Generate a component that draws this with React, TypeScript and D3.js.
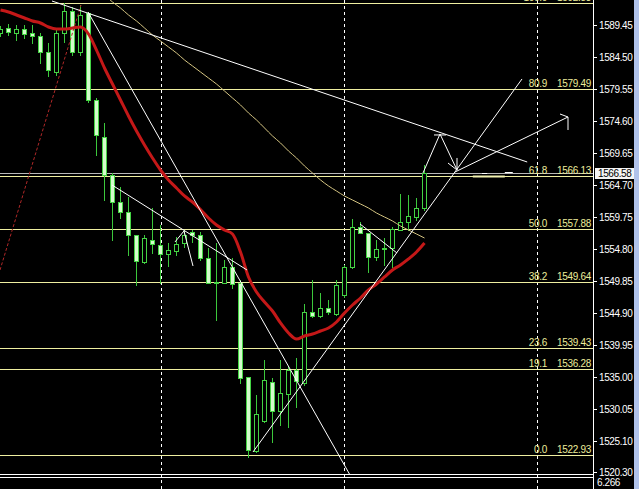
import React from 'react';
import * as d3 from 'd3';

const W = 639;
const H = 489;

// OHLC per bar (bar index 0..53)
const opens = [1588.21,1588.99,1588.21,1588.83,1588.21,1587.75,1585.27,1582.18,1588.21,1591.62,1585.27,1591.31,1577.85,1572.13,1566.25,1562.07,1560.53,1556.97,1552.79,1556.19,1555.42,1554.03,1554.49,1555.73,1557.43,1556.97,1553.41,1549.70,1549.54,1552.02,1549.54,1535.00,1523.56,1528.20,1534.23,1529.74,1532.37,1536.09,1534.08,1545.06,1544.44,1545.68,1544.75,1547.69,1552.02,1558.20,1557.28,1553.56,1554.96,1554.96,1557.74,1558.98,1559.75,1561.14];
const highs = [1589.30,1589.60,1589.45,1589.45,1589.45,1588.21,1586.67,1588.99,1592.83,1592.23,1592.54,1591.46,1578.16,1574.29,1566.56,1564.39,1562.85,1556.97,1556.97,1561.14,1558.51,1555.73,1556.66,1557.74,1557.74,1557.43,1554.96,1555.73,1553.10,1553.41,1550.01,1535.00,1532.22,1537.63,1534.85,1537.63,1536.70,1537.94,1546.30,1550.01,1548.00,1546.91,1550.01,1552.33,1559.44,1558.98,1557.28,1556.19,1556.50,1558.20,1563.31,1563.15,1562.69,1567.80];
const lows = [1587.75,1587.90,1587.13,1587.44,1586.67,1583.57,1581.56,1581.72,1586.82,1584.81,1584.81,1577.54,1569.34,1562.38,1556.19,1559.60,1553.87,1549.23,1552.64,1554.18,1549.54,1552.17,1553.87,1555.11,1555.89,1553.10,1549.54,1543.82,1549.54,1548.77,1534.08,1522.60,1523.40,1528.04,1524.95,1527.58,1527.27,1530.36,1533.77,1544.28,1544.28,1544.75,1544.59,1547.38,1551.86,1557.28,1551.24,1553.10,1552.33,1552.02,1557.74,1557.74,1559.29,1560.83];
const closes = [1588.83,1588.37,1588.83,1588.06,1587.75,1585.27,1582.49,1588.21,1591.62,1585.27,1591.00,1577.85,1572.44,1566.25,1562.07,1560.53,1556.97,1552.95,1556.50,1555.58,1554.03,1554.65,1555.58,1556.97,1556.97,1553.41,1549.54,1549.54,1552.02,1549.39,1534.85,1523.71,1529.28,1534.54,1529.74,1532.53,1536.09,1534.38,1545.06,1544.44,1545.68,1545.06,1549.23,1552.02,1558.20,1557.28,1553.56,1554.80,1554.80,1557.90,1558.98,1559.91,1561.14,1566.58];

// fast moving average (thick red)
const maFast = [1591.77,1591.46,1591.00,1590.53,1590.07,1589.76,1589.14,1588.83,1588.83,1588.99,1589.14,1588.06,1585.58,1582.80,1580.32,1577.85,1575.37,1573.05,1570.89,1568.88,1567.02,1565.48,1564.24,1563.00,1562.07,1560.91,1559.60,1558.51,1557.74,1557.12,1554.34,1550.47,1548.15,1546.60,1545.21,1543.36,1541.81,1540.88,1541.35,1541.65,1542.12,1542.58,1543.51,1544.90,1546.14,1547.22,1548.46,1549.39,1550.47,1551.55,1552.33,1553.26,1554.34,1555.73];
// slow moving average (thin khaki), starts at bar 13
const maSlow = [null,null,null,null,null,null,null,null,null,null,null,null,null,1594.09,1593.01,1592.08,1591.00,1590.07,1588.99,1587.90,1586.98,1586.05,1585.12,1584.04,1583.11,1582.18,1581.25,1580.32,1579.24,1578.16,1577.08,1575.84,1574.76,1573.52,1572.28,1571.20,1569.96,1568.88,1567.64,1566.56,1565.48,1564.55,1563.77,1563.00,1562.38,1561.76,1561.14,1560.37,1559.75,1559.13,1558.36,1557.74,1557.12,1556.50];

// dashed red indicator line
const dashedRed = [[0, 1551.55], [10.125, 1592.54]];

// hand-drawn trend lines: [bar, price]
const trendLines = [
  [[6.5, 1593.16], [65.9, 1568.26]],
  [[11, 1591.46], [43.75, 1519.84]],
  [[31.625, 1523.40], [65.25, 1581.10]],
  [[14, 1564.70], [30.875, 1551.55]],
  [[21.875, 1555.89], [23, 1557.59], [24.125, 1552.17]],
  [[45, 1558.67], [49.625, 1554.18]],
  [[56.875, 1566.71], [71, 1575.22]],
  [[70, 1575.68], [71, 1575.22], [71, 1573.21]],
  [[52.875, 1566.56], [55, 1572.59], [57.125, 1567.02]],
  [[54.25, 1572.44], [55.75, 1572.44]],
  [[56, 1568.10], [57.125, 1567.02], [57.125, 1568.88]],
];

// short horizontal marks near the 61.8 level: [fromBar, toBar, price]
const shortMarksWhite = [[60.25, 60.9, 1566.62], [63.1, 64.1, 1566.75]];
const shortMarksYellow = [[59.1, 63.1, 1566.0]];

const fibLevels = [0.0, 19.1, 23.6, 38.2, 50.0, 61.8, 80.9, 100.0];
const fibPrices = [1522.93, 1536.28, 1539.43, 1549.64, 1557.88, 1566.13, 1579.49, 1592.83];

const axisTicks = [1589.45, 1584.50, 1579.55, 1574.60, 1569.65, 1564.70, 1559.75, 1554.80, 1549.85, 1544.90, 1539.95, 1535.00, 1530.05, 1525.10, 1520.30];
const bidPrice = 1566.58;
const gridBars = [20.125, 43, 67.125];
const subLabel = '6.266';

export default function App() {
  const plotRight = 593;
  const plotBottom = 474.5;
  const x = d3.scaleLinear().domain([0, 74]).range([0, 592]);
  const y = d3.scaleLinear().domain([1525.10, 1589.45]).range([441, 25]);
  const ry = (p: number) => Math.round(y(p)) + 0.5;
  const font = "'Liberation Sans', Arial, sans-serif";

  const lineGen = d3.line<any>().x((d) => x(d[0])).y((d) => y(d[1]));
  const maLine = d3
    .line<any>()
    .defined((d) => d != null)
    .x((_d, i) => x(i) + 0.5)
    .y((d) => y(d as number))
    .curve(d3.curveMonotoneX);

  return (
    <div style={{ position: 'fixed', left: 0, top: 0, width: W, height: H, background: '#000' }}>
      <svg width={W} height={H} style={{ display: 'block', background: '#000' }}>
        <defs>
          <clipPath id="plot">
            <rect x={0} y={0} width={plotRight} height={plotBottom} />
          </clipPath>
        </defs>
        <rect x={0} y={0} width={W} height={H} fill="#000" />

        {/* grid */}
        {gridBars.map((b, i) => (
          <line key={'g' + i} x1={Math.round(x(b)) + 0.5} x2={Math.round(x(b)) + 0.5} y1={0} y2={H}
            stroke="#fff" strokeWidth={1} strokeDasharray="3,3" />
        ))}

        <g clipPath="url(#plot)">
          {/* bid line */}
          <line x1={0} x2={plotRight} y1={ry(bidPrice)} y2={ry(bidPrice)} stroke="#b8b8b8" strokeWidth={1} />
          {/* fib levels */}
          {fibPrices.map((p, i) => (
            <line key={'f' + i} x1={0} x2={plotRight} y1={ry(p)} y2={ry(p)} stroke="#eeeea0" strokeWidth={1} />
          ))}

          {/* candles */}
          {opens.map((o, i) => {
            const c = closes[i];
            const cx = Math.round(x(i));
            const bull = c > o;
            const top = Math.round(y(Math.max(o, c)));
            const bot = Math.round(y(Math.min(o, c)));
            return (
              <g key={'c' + i}>
                <line x1={cx + 0.5} x2={cx + 0.5} y1={Math.round(y(highs[i]))} y2={Math.round(y(lows[i])) + 1}
                  stroke="#3cc83c" strokeWidth={1} />
                <rect x={cx - 2 + 0.5} y={top + 0.5} width={4} height={Math.max(bot - top, 1)}
                  fill={bull ? '#000' : '#d4fccc'} stroke="#44d444" strokeWidth={1} />
              </g>
            );
          })}

          {/* slow MA */}
          <path d={maLine(maSlow as any) || ''} fill="none" stroke="#d4c482" strokeWidth={1} />
          {/* fast MA */}
          <path d={maLine(maFast as any) || ''} fill="none" stroke="#c41818" strokeWidth={3} strokeLinejoin="round" />
          {/* dashed red */}
          <path d={lineGen(dashedRed as any) || ''} fill="none" stroke="#b02828" strokeWidth={1} strokeDasharray="3,2" />

          {/* trend lines */}
          {trendLines.map((pts, i) => (
            <path key={'t' + i} d={lineGen(pts as any) || ''} fill="none" stroke="#fff" strokeWidth={1} />
          ))}
          {shortMarksYellow.map((s, i) => (
            <line key={'sy' + i} x1={x(s[0])} x2={x(s[1])} y1={y(s[2])} y2={y(s[2])} stroke="#f2f2b0" strokeWidth={2} />
          ))}
          {shortMarksWhite.map((s, i) => (
            <line key={'sw' + i} x1={x(s[0])} x2={x(s[1])} y1={ry(s[2])} y2={ry(s[2])} stroke="#fff" strokeWidth={1} />
          ))}

          {/* fib labels */}
          {fibPrices.map((p, i) => (
            <g key={'fl' + i} fontFamily={font} fontSize={10} fill="#ecec9c">
              <text x={547} y={Math.round(y(p)) - 2} textAnchor="end" letterSpacing={-0.3}>{fibLevels[i].toFixed(1)}</text>
              <text x={591} y={Math.round(y(p)) - 2} textAnchor="end" letterSpacing={-0.3}>{p.toFixed(2)}</text>
            </g>
          ))}
        </g>

        {/* borders */}
        <line x1={0} x2={plotRight} y1={474.5} y2={474.5} stroke="#fff" strokeWidth={1} />
        <line x1={0} x2={plotRight} y1={477.5} y2={477.5} stroke="#fff" strokeWidth={1} />
        <line x1={plotRight + 0.5} x2={plotRight + 0.5} y1={0} y2={H} stroke="#fff" strokeWidth={1} />

        {/* axis ticks */}
        {axisTicks.map((t, i) => (
          <g key={'a' + i}>
            <line x1={594} x2={597} y1={ry(t)} y2={ry(t)} stroke="#fff" strokeWidth={1} />
            <text x={599} y={y(t)} dy="0.35em" fontFamily={font} fontSize={10} fill="#fff" letterSpacing={-0.4}>
              {t.toFixed(2)}
            </text>
          </g>
        ))}

        {/* bid label */}
        <rect x={595} y={Math.round(y(bidPrice)) - 5} width={39} height={11} fill="#f4f4f4" />
        <text x={598} y={y(bidPrice)} dy="0.4em" fontFamily={font} fontSize={10} fill="#000" letterSpacing={-0.4}>
          {bidPrice.toFixed(2)}
        </text>

        {/* sub window label */}
        <text x={597} y={486} fontFamily={font} fontSize={10} fill="#fff" letterSpacing={-0.4}>{subLabel}</text>

        {/* scrollbar strip */}
        <rect x={634} y={0} width={5} height={H} fill="#b0c2ea" />
      </svg>
    </div>
  );
}
